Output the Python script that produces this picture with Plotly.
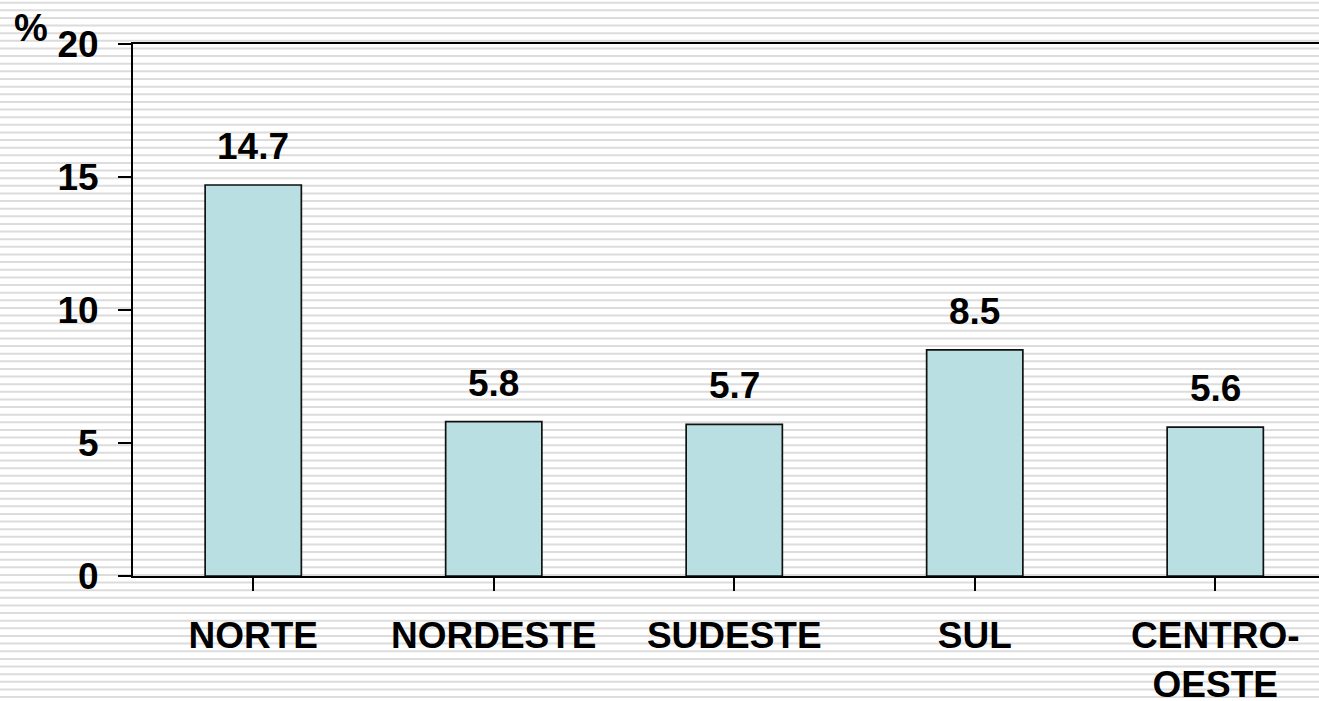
import plotly.graph_objects as go

# ---- data ----
categories = ["NORTE", "NORDESTE", "SUDESTE", "SUL", "CENTRO-<br>OESTE"]
values = [14.7, 5.8, 5.7, 8.5, 5.6]
value_labels = ["14.7", "5.8", "5.7", "8.5", "5.6"]
y_ticks = [0, 5, 10, 15, 20]
y_unit_label = "%"

# ---- layout constants (pixels) ----
W, H = 1319, 701
M_L, M_R, M_T, M_B = 133, 0, 44, 125
PLOT_H = H - M_T - M_B
CAT_PX = 240.5
PLOT_W = W - M_L - M_R
FONT = "Arial, Liberation Sans, sans-serif"
FS = 37
BAR_COLOR = "#b9dfe2"

fig = go.Figure()
fig.add_trace(go.Bar(
    x=list(range(len(categories))),
    y=values,
    width=0.40,
    marker=dict(color=BAR_COLOR, line=dict(color="#111111", width=1.7)),
    hoverinfo="skip",
))

# value labels above bars
for i, (v, t) in enumerate(zip(values, value_labels)):
    fig.add_annotation(x=i, y=v, text=t, showarrow=False, xref="x", yref="y",
                       yanchor="bottom", yshift=16,
                       font=dict(family=FONT, size=FS, color="black", weight="bold"))

# "%" unit label
fig.add_annotation(x=(31 - M_L) / PLOT_W, y=(H - M_B - 28) / PLOT_H, xref="paper", yref="paper",
                   text=y_unit_label, showarrow=False, xanchor="center", yanchor="middle",
                   font=dict(family=FONT, size=38, color="black", weight="bold"))

# striped background
shapes = []
k = 0
while True:
    ypx = 2.7 + 7.63 * k
    if ypx > H + 2:
        break
    yp = (H - M_B - ypx) / PLOT_H
    shapes.append(dict(type="line", xref="paper", yref="paper",
                       x0=-M_L / PLOT_W - 0.01, x1=1.01, y0=yp, y1=yp,
                       line=dict(color="#dcdcdc", width=2), layer="below"))
    k += 1

fig.update_layout(
    width=W, height=H,
    margin=dict(l=M_L, r=M_R, t=M_T, b=M_B, autoexpand=False),
    paper_bgcolor="white",
    plot_bgcolor="rgba(0,0,0,0)",
    showlegend=False,
    shapes=shapes,
    bargap=0.6,
    xaxis=dict(
        range=[-0.5, -0.5 + PLOT_W / CAT_PX],
        tickmode="array",
        tickvals=list(range(len(categories))),
        ticktext=categories,
        tickson="boundaries",
        ticks="outside", ticklen=13, tickwidth=2, tickcolor="black",
        showline=True, linecolor="black", linewidth=2, mirror=True,
        showgrid=False, zeroline=False,
        ticklabelstandoff=13,
        tickfont=dict(family=FONT, size=FS, color="black", weight="bold"),
        fixedrange=True,
    ),
    yaxis=dict(
        range=[0, 20],
        tickvals=y_ticks,
        ticks="outside", ticklen=13, tickwidth=2, tickcolor="black",
        showline=True, linecolor="black", linewidth=2,
        showgrid=False, zeroline=False,
        ticklabelstandoff=12,
        tickfont=dict(family=FONT, size=FS, color="black", weight="bold"),
        fixedrange=True,
    ),
)

fig.write_html(
    "out.html",
    config={"displayModeBar": False},
    post_script="document.body.style.margin='0';document.body.style.overflow='hidden';",
)
